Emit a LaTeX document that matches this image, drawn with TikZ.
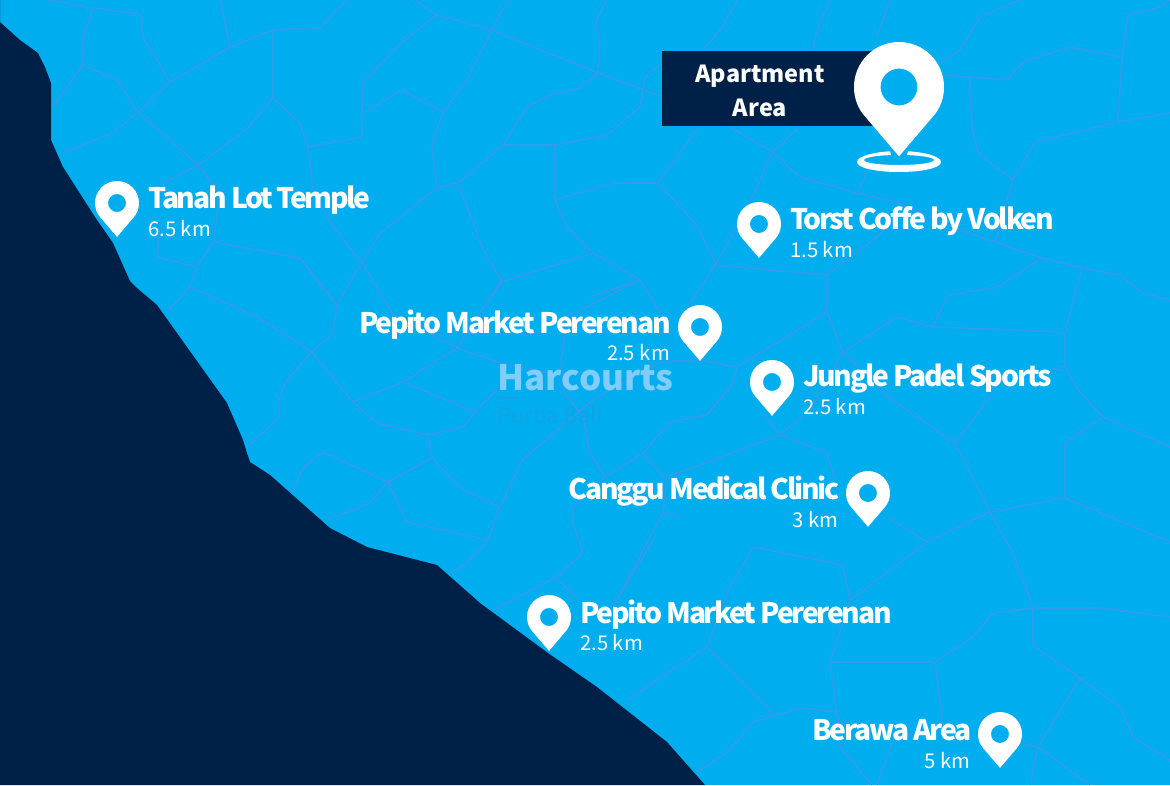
\documentclass[tikz,border=0pt]{standalone}
\usepackage{fontspec}
\newfontfamily\placefont[LetterSpace=-8]{Noto Sans CJK SC}
\newfontfamily\distfont{Noto Sans CJK SC}

\definecolor{seablue}{HTML}{00ADEF}
\definecolor{roadblue}{HTML}{2E9DEB}
\definecolor{landnavy}{HTML}{002147}
\definecolor{brandblue}{HTML}{7FCDF8}
\definecolor{brandfaint}{HTML}{12A3E7}

\tikzset{
  road/.style={draw=roadblue, line width=1.8pt, line join=round, rounded corners=2pt},
  placetext/.style={text=white, inner sep=0pt, font=\placefont\bfseries\fontsize{28.3}{34}\selectfont},
  disttext/.style={text=white, inner sep=0pt, font=\distfont\fontsize{20.3}{25}\selectfont},
  mappin/.pic={
    \fill[white, even odd rule] (0,1.54) -- (-0.76,0.65) .. controls (-0.92,0.47) and (-1,0.24) .. (-1,0)
      .. controls (-1,-0.552) and (-0.552,-1) .. (0,-1) .. controls (0.552,-1) and (1,-0.552) .. (1,0)
      .. controls (1,0.24) and (0.92,0.47) .. (0.76,0.65) -- cycle (0,0) circle (0.41);
  }
}

\begin{document}
\begin{tikzpicture}[x=1pt, y=-1pt]
  \useasboundingbox (0,0) rectangle (1170,785);
  \clip (0,0) rectangle (1170,785);
  \fill[seablue] (0,0) rectangle (1170,785);

  % roads, left part
  \draw[road] (47,0) -- (93,8) -- (140,14) -- (143,37) -- (170,82);
  \draw[road] (93,8) -- (83,40) -- (83,65) -- (53,107);
  \draw[road] (83,65) -- (117,80) -- (138,112);
  \draw[road] (170,82) -- (138,112) -- (113,133) -- (63,153);
  \draw[road] (170,82) -- (230,47) -- (273,30) -- (320,28) -- (347,0);
  \draw[road] (220,0) -- (230,47);
  \draw[road] (273,30) -- (273,98) -- (248,128) -- (198,165) -- (138,112);
  \draw[road] (198,165) -- (150,190);
  \draw[road] (198,165) -- (220,193) -- (213,242) -- (300,258) -- (332,300);
  \draw[road] (213,242) -- (197,267) -- (157,257) -- (160,227);
  \draw[road] (197,267) -- (190,287) -- (167,312);
  \draw[road] (190,287) -- (257,317) -- (312,352);
  \draw[road] (273,98) -- (300,123) -- (308,147) -- (362,137) -- (363,82) -- (402,42) -- (437,15);
  \draw[road] (363,113) -- (402,90) -- (443,112);
  \draw[road] (308,147) -- (313,190) -- (333,227) -- (362,262);
  \draw[road] (362,262) -- (380,233) -- (437,188);
  \draw[road] (362,262) -- (337,305) -- (333,333) -- (312,352) -- (287,380) -- (278,400) -- (280,417) -- (247,447);
  \draw[road] (300,258) -- (337,305);
  \draw[road] (362,262) -- (393,315) -- (457,348);
  \draw[road] (312,352) -- (353,402) -- (377,423) -- (427,435) -- (463,427) -- (475,412) -- (497,390);
  \draw[road] (353,402) -- (403,382) -- (457,348) -- (500,282);
  \draw[road] (403,382) -- (475,412);
  \draw[road] (428,435) -- (432,458) -- (388,482) -- (323,452) -- (303,468) -- (293,490);
  \draw[road] (388,482) -- (370,503) -- (327,520);
  \draw[road] (388,482) -- (407,522) -- (488,540) -- (467,563) -- (450,573);
  \draw[road] (432,458) -- (463,490) -- (500,507) -- (488,540);

  % roads, middle part
  \draw[road] (415,0) -- (437,15) -- (492,30) -- (508,0);
  \draw[road] (492,30) -- (598,73) -- (662,97);
  \draw[road] (492,30) -- (467,80) -- (443,112) -- (432,145) -- (437,188) -- (458,183) -- (503,145);
  \draw[road] (458,183) -- (482,247) -- (502,282) -- (490,300);
  \draw[road] (502,282) -- (593,253) -- (567,227) -- (555,200) -- (555,145);
  \draw[road] (503,145) -- (555,145) -- (607,135) -- (640,107) -- (645,77) -- (662,63);
  \draw[road] (503,145) -- (527,107) -- (550,95) -- (580,88) -- (598,73) -- (600,43) -- (595,23) -- (607,0);
  \draw[road] (555,200) -- (613,183) -- (658,183) -- (697,130);
  \draw[road] (658,183) -- (695,223) -- (713,257) -- (715,265) -- (688,307);
  \draw[road] (593,253) -- (640,280) -- (663,317);
  \draw[road] (590,297) -- (640,280);
  \draw[road] (457,348) -- (500,363) -- (560,375);
  \draw[road] (567,317) -- (640,280);
  \draw[road] (567,317) -- (561,360) -- (563,390) -- (583,417) -- (590,453) -- (605,477) -- (573,507) -- (573,523) -- (583,553) -- (555,578) -- (493,610);
  \draw[road] (555,578) -- (577,597);
  \draw[road] (700,360) -- (660,362) -- (593,400) -- (522,460) -- (500,507);
  \draw[road] (700,360) -- (737,367) -- (733,383) -- (707,415) -- (670,422) -- (643,453) -- (605,477);
  \draw[road] (643,453) -- (667,480) -- (663,513) -- (613,607);
  \draw[road] (653,540) -- (613,607);
  \draw[road] (663,513) -- (680,517);
  \draw[road] (667,477) -- (780,435);
  \draw[road] (753,547) -- (727,593) -- (707,647) -- (627,700);
  \draw[road] (707,647) -- (775,715) -- (753,722) -- (730,750) -- (697,772);
  \draw[road] (775,715) -- (803,708) -- (838,712);
  \draw[road] (753,547) -- (843,565) -- (850,600) -- (830,662) -- (838,720) -- (840,747) -- (872,785);

  % roads, upper right
  \draw[road] (738,0) -- (720,30) -- (703,50);
  \draw[road] (830,0) -- (817,30) -- (813,50);
  \draw[road] (890,0) -- (877,37);
  \draw[road] (730,127) -- (772,152) -- (800,127);
  \draw[road] (772,152) -- (800,177) -- (857,193) -- (900,203) -- (960,230) -- (995,242) -- (1042,258) -- (1082,268) -- (1120,275) -- (1143,293) -- (1170,300);
  \draw[road] (772,152) -- (750,203) -- (715,265);
  \draw[road] (867,173) -- (857,193);
  \draw[road] (940,63) -- (960,50) -- (980,17) -- (1020,0);
  \draw[road] (943,75) -- (1007,80) -- (1023,62) -- (1070,47) -- (1122,57) -- (1128,15) -- (1157,8) -- (1170,0);
  \draw[road] (970,77) -- (972,127) -- (978,153) -- (1013,180) -- (1007,200) -- (995,242);
  \draw[road] (1013,180) -- (1035,142) -- (1118,122) -- (1170,113);
  \draw[road] (1122,57) -- (1118,122);
  \draw[road] (715,265) -- (827,275) -- (873,240) -- (890,225) -- (905,205);
  \draw[road] (827,275) -- (827,312) -- (737,367);
  \draw[road] (827,312) -- (843,352) -- (897,317) -- (933,327) -- (948,295) -- (998,287) -- (1042,258);
  \draw[road] (933,327) -- (1065,332);
  \draw[road] (1082,268) -- (1065,332) -- (1065,367) -- (1078,390) -- (1103,417) -- (1170,447);
  \draw[road] (1065,367) -- (1050,370);

  % roads, lower right
  \draw[road] (843,352) -- (888,397) -- (955,443) -- (990,512);
  \draw[road] (993,393) -- (955,443);
  \draw[road] (1103,417) -- (1065,443) -- (1065,498) -- (990,512) -- (927,542) -- (850,600);
  \draw[road] (887,517) -- (927,542);
  \draw[road] (1065,498) -- (1170,542);
  \draw[road] (843,352) -- (810,410) -- (780,435) -- (827,453) -- (835,480);
  \draw[road] (780,435) -- (763,413);
  \draw[road] (990,512) -- (1013,553) -- (1033,608) -- (1103,608) -- (1170,617);
  \draw[road] (830,662) -- (935,662) -- (943,727);
  \draw[road] (935,662) -- (973,637) -- (993,613) -- (1033,608) -- (1033,645) -- (1080,678) -- (1120,707) -- (1133,737) -- (1170,760);
  \draw[road] (1080,678) -- (1038,747) -- (1030,785);
  \draw[road] (1020,743) -- (1038,747) -- (1090,785);
  \draw[road] (877,785) -- (892,743) -- (913,733);

  % land
  \fill[landnavy] (0,0) -- (0,22) -- (20,40) -- (38,53) -- (45,67) -- (51,83) -- (51,140) -- (63,167)
    -- (95,217) -- (113,243) -- (130,281) -- (137,288) -- (157,305) -- (227,403) -- (243,440) -- (247,453)
    -- (250,462) -- (270,475) -- (330,528) -- (367,547) -- (437,565) -- (480,603) -- (548,653)
    -- (597,687) -- (667,742) -- (705,785) -- (0,785) -- cycle;

  % apartment marker
  \node[fill=landnavy, minimum width=218pt, minimum height=75pt, inner sep=0pt] (aptbox) at (771,88.5) {};
  \node[align=center, text=white, inner sep=0pt, font=\distfont\bfseries\fontsize{23.5}{34}\selectfont] (aptlabel) at (760,91) {Apartment\\Area};
  \fill[white, even odd rule] (857,162) .. controls (857,156) and (876,151) .. (899,151) .. controls (922,151) and (941,156) .. (941,162)
    .. controls (941,168) and (922,172) .. (899,172) .. controls (876,172) and (857,168) .. (857,162)
    (864,160) .. controls (864,157) and (880,155) .. (899,155) .. controls (918,155) and (934,157) .. (934,160)
    .. controls (934,163) and (918,165) .. (899,165) .. controls (880,165) and (864,163) .. (864,160);
  \fill[seablue] (889,146) -- (909,146) -- (907,155) -- (899,160) -- (891,155) -- cycle;
  \pic[scale=45] (apartpin) at (899,87) {mappin};

  % watermark
  \node[anchor=base west, inner sep=0pt, text=brandblue, font=\distfont\bfseries\fontsize{35}{40}\selectfont] (harcourts) at (497,390) {Harcourts};
  \fill[brandfaint] (498,397) rectangle (520,399);
  \node[anchor=base west, inner sep=0pt, text=brandfaint, font=\distfont\fontsize{22}{25}\selectfont] (purba) at (497,423) {Purba Bali};

  % places
  \pic[scale=22] (tanahpin) at (117,203) {mappin};
  \node[placetext, anchor=base west] (tanah) at (148,208) {Tanah Lot Temple};
  \node[disttext, anchor=base west] (tanahkm) at (148,236) {6.5 km};

  \pic[scale=22] (torstpin) at (759,224) {mappin};
  \node[placetext, anchor=base west] (torst) at (790,229) {Torst Coffe by Volken};
  \node[disttext, anchor=base west] (torstkm) at (790,257) {1.5 km};

  \pic[scale=22] (pepitopin) at (700,327) {mappin};
  \node[placetext, anchor=base east] (pepito) at (671,333) {Pepito Market Pererenan};
  \node[disttext, anchor=base east] (pepitokm) at (670,360) {2.5 km};

  \pic[scale=22] (junglepin) at (772,382) {mappin};
  \node[placetext, anchor=base west] (jungle) at (803,386) {Jungle Padel Sports};
  \node[disttext, anchor=base west] (junglekm) at (803,414) {2.5 km};

  \pic[scale=22] (clinicpin) at (868,493) {mappin};
  \node[placetext, anchor=base east] (canggu) at (840,499) {Canggu Medical Clinic};
  \node[disttext, anchor=base east] (canggukm) at (838.5,527) {3 km};

  \pic[scale=22] (marketpin) at (549,617) {mappin};
  \node[placetext, anchor=base west] (market) at (580,623) {Pepito Market Pererenan};
  \node[disttext, anchor=base west] (marketkm) at (580,650) {2.5 km};

  \pic[scale=22] (berawapin) at (1000,734) {mappin};
  \node[placetext, anchor=base east] (berawa) at (972,740) {Berawa Area};
  \node[disttext, anchor=base east] (berawakm) at (970.5,768) {5 km};
\end{tikzpicture}
\end{document}
